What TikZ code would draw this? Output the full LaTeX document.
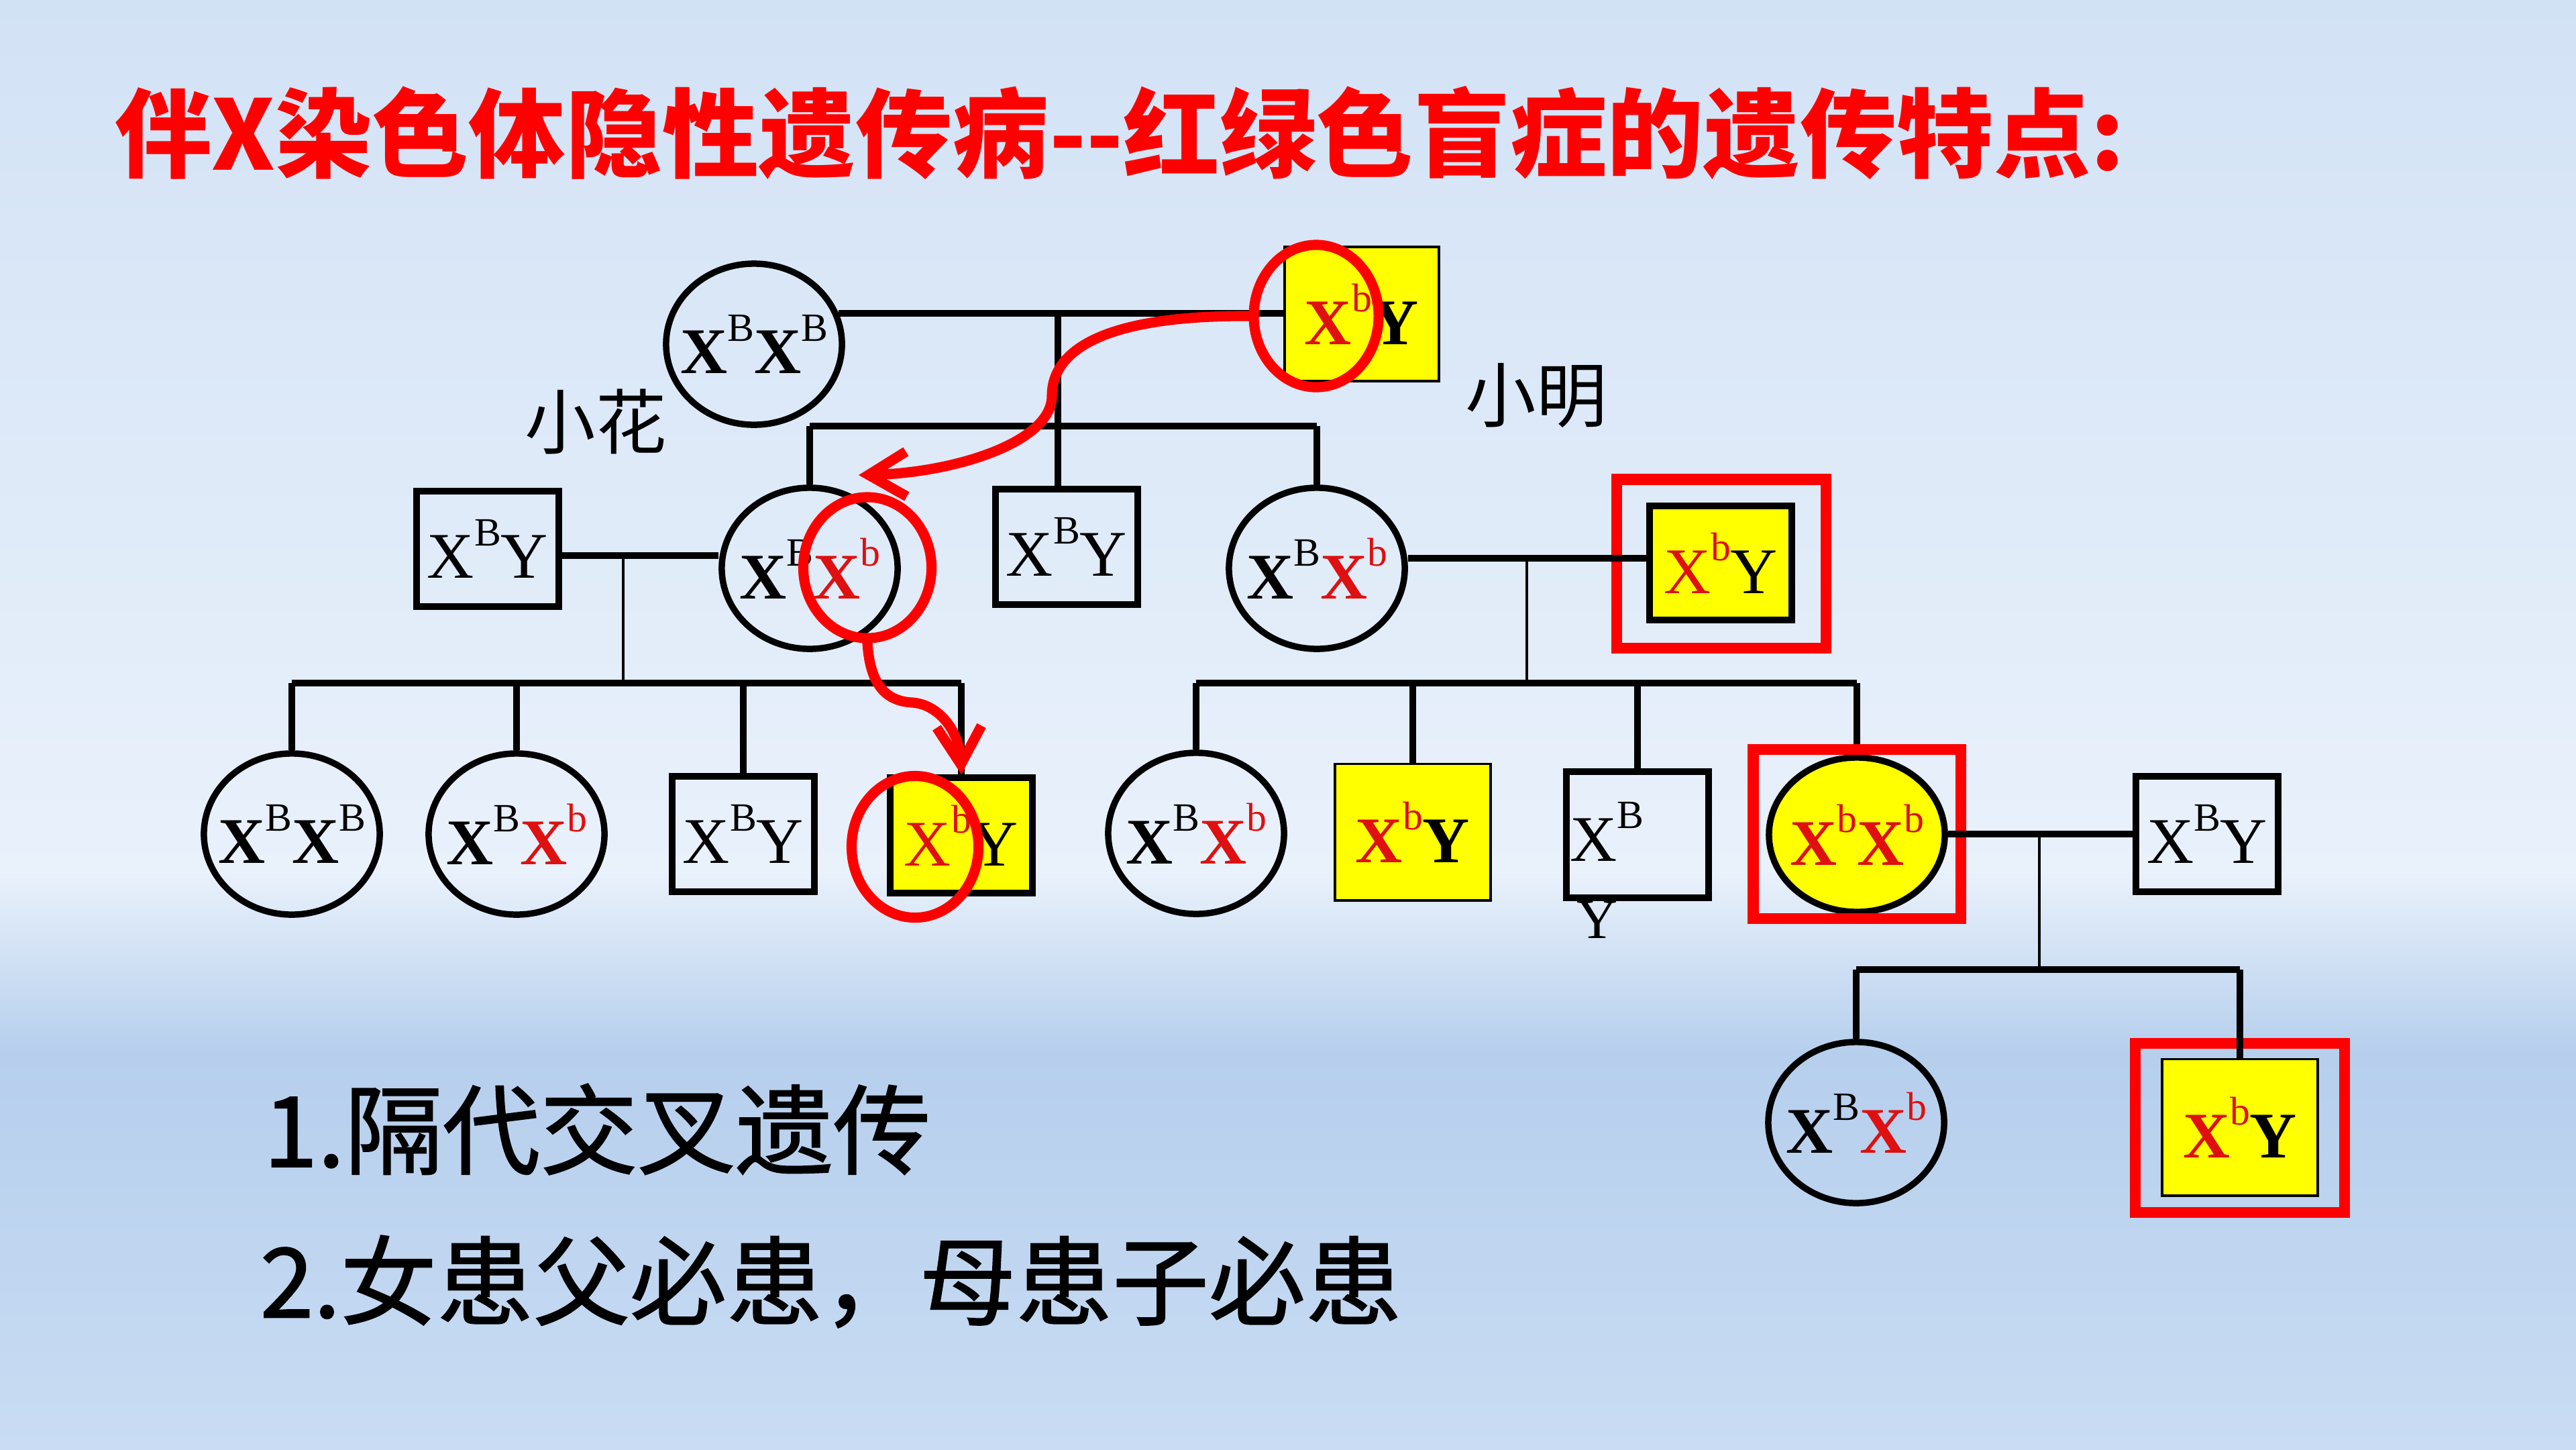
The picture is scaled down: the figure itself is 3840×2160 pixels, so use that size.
\documentclass[tikz,border=0pt]{standalone}
\usepackage{fontspec}
\setmainfont{Liberation Serif}
\newfontfamily\cjk{Noto Sans CJK SC}
\newfontfamily\cjkh{Noto Sans CJK SC}[FakeBold=1.3]
\usetikzlibrary{shapes.geometric,arrows.meta}
\definecolor{gred}{RGB}{222,16,16}
\definecolor{ylw}{RGB}{255,255,0}
\definecolor{bgA}{RGB}{210,226,245}
\definecolor{bgB}{RGB}{233,241,251}
\definecolor{bgC}{RGB}{182,207,237}
\definecolor{bgD}{RGB}{201,220,243}
\newcommand{\gfont}{\fontsize{27.6pt}{30pt}\selectfont}
\newcommand{\gsup}[1]{\raisebox{0.5em}{\fontsize{17pt}{17pt}\selectfont #1}}
\newcommand{\gXB}{X\gsup{B}}
\newcommand{\gXb}{\textcolor{gred}{X\gsup{b}}}
\newcommand{\gbXB}{\textbf{X}\gsup{B}}
\newcommand{\gbXb}{\textcolor{gred}{\textbf{X}\gsup{b}}}
\tikzset{
  gtxt/.style={inner sep=0pt, font=\gfont},
  fem/.style={ellipse, draw=black, line width=2.7pt, minimum width=2.62cm, minimum height=2.40cm, inner sep=0pt, label={[gtxt]center:#1}},
  mal/.style={rectangle, draw=black, line width=2.8pt, minimum width=2.12cm, minimum height=1.72cm, inner sep=0pt, font=\gfont},
  aff/.style={fill=ylw},
  thinb/.style={line width=1.1pt},
  rring/.style={ellipse, draw=red, line width=4.3pt, inner sep=0pt},
  rframe/.style={rectangle, draw=red, line width=4.6pt, inner sep=0pt},
  pline/.style={line width=2.8pt},
  tline/.style={line width=1.2pt},
  rarrow/.style={draw=red, line width=4.3pt, line cap=round, -{Straight Barb[length=16pt,width=19pt]}},
  cname/.style={inner sep=0pt, font=\cjk\fontsize{30pt}{32pt}\selectfont},
}
\begin{document}
\begin{tikzpicture}[x=0.01cm,y=-0.01cm]
\useasboundingbox (0,0) rectangle (3840,2160);
\begin{scope}[y=0.01cm]
\shade[top color=bgA,bottom color=bgB] (0,1) rectangle (3840,-1301);
\shade[top color=bgB,bottom color=bgC] (0,-1300) rectangle (3840,-1568);
\shade[top color=bgC,bottom color=bgD] (0,-1567) rectangle (3840,-2161);
\end{scope}

% title
\node[anchor=west, inner sep=0pt, text=red, font=\cjk\bfseries\fontsize{41pt}{45pt}\selectfont] (title) at (171,198) {伴X染色体隐性遗传病--红绿色盲症的遗传特点:};

% generation I
\node[fem={\gbXB\gbXB}] (F1) at (1124,513) {};
\node[mal,aff,thinb,minimum width=2.30cm,minimum height=2.00cm] (M1) at (2030,468) {\gbXb\textbf{Y}};

% generation II
\node[mal] (M2a) at (727,818) {\gXB Y};
\node[fem={\gbXB\gbXb}] (F2a) at (1207,847) {};
\node[mal] (M2b) at (1590,815) {\gXB Y};
\node[fem={\gbXB\gbXb}] (F2b) at (1963,847) {};
\node[mal,aff,line width=3pt,minimum width=2.12cm,minimum height=1.70cm] (M2c) at (2565,839) {\gXb Y};
\node[rframe,minimum width=3.12cm,minimum height=2.51cm] (fM2c) at (2566,840) {};

% generation III
\node[fem={\gbXB\gbXB}] (C1) at (435,1243) {};
\node[fem={\gbXB\gbXb}] (C2) at (770,1243) {};
\node[mal] (C3) at (1108,1243) {\gXB Y};
\node[mal,aff] (C4) at (1433,1245) {\gXb Y};
\node[fem={\gbXB\gbXb}] (D1) at (1783,1242) {};
\node[mal,aff,thinb,minimum width=2.32cm,minimum height=2.03cm] (D2) at (2106,1240) {\gbXb\textbf{Y}};
\node[mal,minimum height=1.88cm] (D3) at (2441,1244) {};
\node[gtxt,anchor=base west] (D3t) at (2340,1283) {\gXB};
\node[inner sep=0pt,anchor=base west,font=\fontsize{24pt}{26pt}\selectfont] (D3y) at (2350,1398) {Y};
\node[fem={\gbXb\gbXb},aff,minimum height=2.30cm] (D4) at (2768,1244) {};
\node[rframe,minimum width=3.09cm,minimum height=2.52cm] (fD4) at (2768,1243) {};
\node[mal] (M3) at (3290,1243) {\gXB Y};

% generation IV
\node[fem={\gbXB\gbXb}] (E1) at (2767,1673) {};
\node[mal,aff,thinb,minimum width=2.32cm,minimum height=2.03cm] (E2) at (3339,1680) {\gbXb\textbf{Y}};
\node[rframe,minimum width=3.12cm,minimum height=2.52cm] (fE2) at (3339,1681) {};

% names
\node[cname] (xh) at (888,628) {小花};
\node[cname] (xm) at (2290,590) {小明};

% pedigree lines
\coordinate (mI) at (1577,468);
\coordinate (sI) at (1577,635);
\draw[pline] (F1.20) -- (F1.20 -| M1.west);
\draw[pline] (mI) -- (mI |- M2b.north);
\draw[pline] (F2a.north |- sI) -- (F2b.north |- sI);
\draw[pline] (F2a.north |- sI) -- (F2a.north);
\draw[pline] (F2b.north |- sI) -- (F2b.north);

\coordinate (mIIa) at (929,828);
\coordinate (sIIa) at (929,1018);
\draw[pline] (M2a.east |- mIIa) -- (F2a.west |- mIIa);
\draw[tline] (mIIa) -- (sIIa);
\draw[pline] (C1.north |- sIIa) -- (C4.north |- sIIa);
\foreach \n in {C1,C2,C3,C4} \draw[pline] (\n.north |- sIIa) -- (\n.north);

\coordinate (mIIb) at (2276,832);
\coordinate (sIIb) at (2276,1018);
\draw[pline] (F2b.east |- mIIb) -- (M2c.west |- mIIb);
\draw[tline] (mIIb) -- (sIIb);
\draw[pline] (D1.north |- sIIb) -- (fD4.north |- sIIb);
\foreach \n in {D1,D2,D3,fD4} \draw[pline] (\n.north |- sIIb) -- (\n.north);

\coordinate (mIII) at (3040,1243);
\coordinate (sIII) at (3040,1445);
\draw[pline] (D4.east |- mIII) -- (M3.west |- mIII);
\draw[tline] (mIII) -- (sIII);
\draw[pline] (E1.north |- sIII) -- (E2.north |- sIII);
\draw[pline] (E1.north |- sIII) -- (E1.north);
\draw[pline] (E2.north |- sIII) -- (E2.north);

% red rings and arrows
\node[rring,minimum width=1.86cm,minimum height=2.12cm] (r1) at (1962,471) {};
\node[rring,minimum width=1.91cm,minimum height=2.10cm] (r2) at (1293,846) {};
\node[rring,minimum width=1.89cm,minimum height=2.11cm] (r3) at (1364,1262) {};
\coordinate (a1m) at (1568,590);
\coordinate (t1) at (1280,708);
\coordinate (a2m) at (1360,1047);
\draw[rarrow] (r1.west) .. controls (1650,470) and (1568,520) .. (a1m) .. controls (1568,660) and (1420,705) .. (t1);
\draw[rarrow] (r2.south) .. controls (1297,1020) and (1320,1045) .. (a2m) .. controls (1400,1050) and (1430,1090) .. (C4.north);

% bottom text
\node[anchor=west, inner sep=0pt, font=\cjkh\fontsize{41.4pt}{44pt}\selectfont] (p1) at (392,1683) {1.隔代交叉遗传};
\node[anchor=west, inner sep=0pt, font=\cjkh\fontsize{40.9pt}{44pt}\selectfont] (p2) at (387,1910) {2.女患父必患，母患子必患};
\end{tikzpicture}
\end{document}
